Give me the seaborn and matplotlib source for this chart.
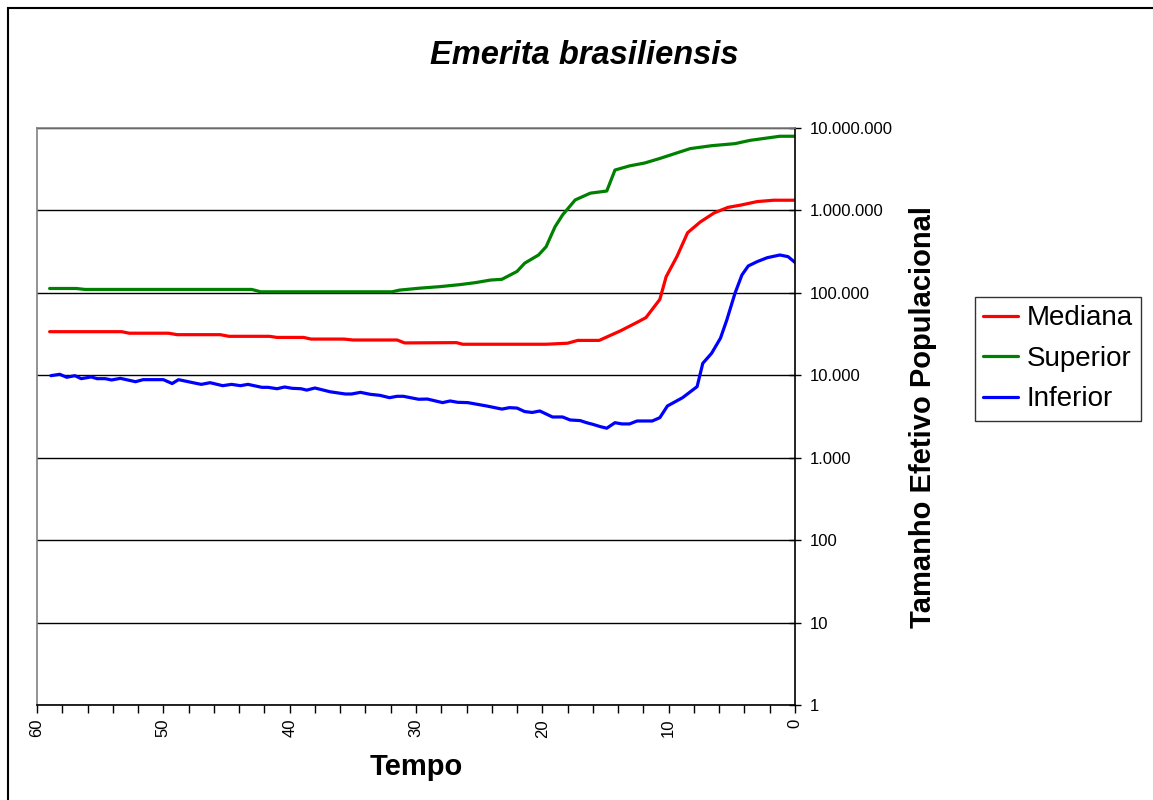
import matplotlib
matplotlib.use("Agg")
import matplotlib.pyplot as plt
import matplotlib.ticker as mticker
from matplotlib.patches import Rectangle
import numpy as np
import pandas as pd
import seaborn as sns

# Bayesian skyline estimates (effective population size vs. time)
tempo_mediana = [59.0, 53.3, 52.7, 49.6, 48.9, 45.5, 44.8, 41.6, 41.0, 38.9, 38.3,
                 35.7, 35.0, 31.5, 30.9, 26.8, 26.3, 19.7, 18.0, 17.2, 15.5, 13.8,
                 12.4, 11.8, 10.7, 10.2, 9.35, 8.5, 7.5, 6.4, 5.3, 4.3, 3.0, 1.7, 0.0]
mediana = [33800, 33800, 32400, 32400, 31100, 31100, 29700, 29700, 28800, 28800, 27500,
           27500, 26800, 26800, 24700, 24900, 23800, 23800, 24500, 26500, 26500, 34700,
           44700, 50100, 83200, 157000, 275000, 537000, 724000, 933000, 1090000,
           1160000, 1280000, 1330000, 1330000]

tempo_superior = [59.0, 56.9, 56.2, 43.0, 42.3, 31.9, 31.3, 29.7, 28.1, 26.5, 25.3,
                  24.1, 23.2, 22.0, 21.4, 20.3, 19.7, 19.0, 18.4, 17.4, 16.2, 14.9,
                  14.25, 13.1, 11.9, 10.7, 9.5, 8.3, 6.6, 4.75, 3.56, 1.2, 0.0]
superior = [113000, 113000, 110000, 110000, 103000, 103000, 108000, 114000, 119000,
            126000, 133000, 143000, 146000, 182000, 229000, 288000, 363000, 631000,
            881000, 1340000, 1620000, 1720000, 3090000, 3470000, 3760000, 4270000,
            4900000, 5620000, 6100000, 6460000, 7080000, 7940000, 7940000]

tempo_inferior = [58.9, 58.2, 57.65, 57.0, 56.5, 55.7, 55.25, 54.6, 54.1, 53.4, 52.2,
                  51.6, 50.0, 49.3, 48.8, 47.65, 47.0, 46.3, 45.3, 44.6, 43.9, 43.3,
                  42.2, 41.7, 41.0, 40.4, 39.8, 39.1, 38.65, 38.0, 36.8, 35.6, 35.1,
                  34.4, 33.6, 32.85, 32.1, 31.5, 31.0, 29.8, 29.1, 27.9, 27.3, 26.7,
                  25.9, 24.4, 23.2, 22.6, 22.0, 21.4, 20.8, 20.2, 19.2, 18.4, 17.8,
                  17.0, 16.5, 16.0, 15.4, 14.9, 14.25, 13.7, 13.1, 12.5, 11.3, 10.7,
                  10.1, 8.9, 7.75, 7.3, 6.6, 5.9, 5.4, 4.75, 4.2, 3.7, 3.0, 2.2, 1.2,
                  0.55, 0.0]
inferior = [9890, 10280, 9460, 9890, 9100, 9550, 9100, 9100, 8770, 9180, 8360,
            8850, 8850, 7940, 8850, 8130, 7760, 8130, 7480, 7760, 7480, 7760,
            7140, 7140, 6870, 7210, 6950, 6870, 6610, 7010, 6310, 5930, 5930,
            6210, 5870, 5710, 5350, 5560, 5560, 5120, 5150, 4660, 4880, 4700,
            4660, 4240, 3890, 4050, 4000, 3630, 3540, 3690, 3120, 3120, 2870,
            2820, 2660, 2540, 2380, 2280, 2660, 2570, 2570, 2790, 2790, 3060,
            4240, 5350, 7280, 13960, 18500, 28200, 46800, 98900, 165000, 212000,
            239000, 267000, 288000, 275000, 234000]

series_names = ["Mediana", "Superior", "Inferior"]
series_colors = ["#FF0000", "#008000", "#0000FF"]

df = pd.concat([
    pd.DataFrame({"Tempo": tempo_mediana, "Ne": mediana, "Serie": "Mediana"}),
    pd.DataFrame({"Tempo": tempo_superior, "Ne": superior, "Serie": "Superior"}),
    pd.DataFrame({"Tempo": tempo_inferior, "Ne": inferior, "Serie": "Inferior"}),
], ignore_index=True)

sns.set_style("white")
plt.rcParams["font.family"] = ["Liberation Sans", "DejaVu Sans"]
plt.rcParams.update({"text.color": "black", "axes.labelcolor": "black",
                     "xtick.color": "black", "ytick.color": "black"})

W, H = 1153, 800
fig = plt.figure(figsize=(W / 100, H / 100), dpi=100)
ax = fig.add_axes([37 / W, 1 - 705 / H, (795 - 37) / W, (705 - 128) / H])

sns.lineplot(data=df, x="Tempo", y="Ne", hue="Serie", hue_order=series_names,
             palette=dict(zip(series_names, series_colors)), estimator=None,
             linewidth=2.3, legend=False, ax=ax)

ax.set_yscale("log")
ax.set_ylim(1, 1e7)
ax.set_xlim(60, 0)

# Right-hand log axis with dotted thousands
ax.yaxis.tick_right()
ax.yaxis.set_label_position("right")
ax.yaxis.set_major_locator(mticker.LogLocator(base=10, numticks=10))
ax.yaxis.set_minor_locator(mticker.NullLocator())
ax.yaxis.set_major_formatter(
    mticker.FuncFormatter(lambda v, _: f"{int(round(v)):,}".replace(",", ".")))
ax.tick_params(axis="y", which="major", direction="inout", length=9, width=1,
               color="black", labelcolor="black", labelsize=12, pad=6,
               right=True, left=False)

ax.xaxis.set_major_locator(mticker.MultipleLocator(10))
ax.xaxis.set_minor_locator(mticker.MultipleLocator(2))
ax.tick_params(axis="x", which="both", direction="out", length=6, width=1,
               color="black", bottom=True)
ax.tick_params(axis="x", which="major", labelsize=12, labelrotation=90, pad=4,
               labelcolor="black")

ax.grid(False)
ax.yaxis.grid(True, which="major", color="black", linewidth=1)

for side in ["top", "left"]:
    ax.spines[side].set_color("#808080")
    ax.spines[side].set_linewidth(1.2)
for side in ["right", "bottom"]:
    ax.spines[side].set_color("black")
    ax.spines[side].set_linewidth(1.2)
ax.spines["top"].set_zorder(3)

ax.set_xlabel("Tempo", fontsize=21, fontweight="bold", color="black")
ax.xaxis.set_label_coords(0.5, -0.083)
ax.set_ylabel("Tamanho Efetivo Populacional", fontsize=21, fontweight="bold",
              rotation=90, va="center", color="black")
ax.yaxis.set_label_coords((923 - 37) / (795 - 37), 0.5)

fig.text(584 / W, 1 - 55 / H, "Emerita brasiliensis", fontsize=23.5,
         fontweight="bold", fontstyle="italic", ha="center", va="center",
         color="black")

handles = [plt.Line2D([], [], color=c, linewidth=2.3) for c in series_colors]
leg = fig.legend(handles, series_names, loc="upper left",
                 bbox_to_anchor=(975 / W, 1 - 297 / H), fontsize=20,
                 frameon=True, fancybox=False, handlelength=1.25,
                 handletextpad=0.3, borderpad=0.3, labelspacing=0.52,
                 borderaxespad=0)
leg.get_frame().set_edgecolor("black")
leg.get_frame().set_linewidth(1)
for t in leg.get_texts():
    t.set_color("black")

# Outer chart frame
fig.patches.append(Rectangle((7.5 / W, -0.1), 1.0, (1 - 8 / H) + 0.1,
                             transform=fig.transFigure, fill=False,
                             edgecolor="black", linewidth=1.5))

fig.savefig("out.png", dpi=100, facecolor="white")
